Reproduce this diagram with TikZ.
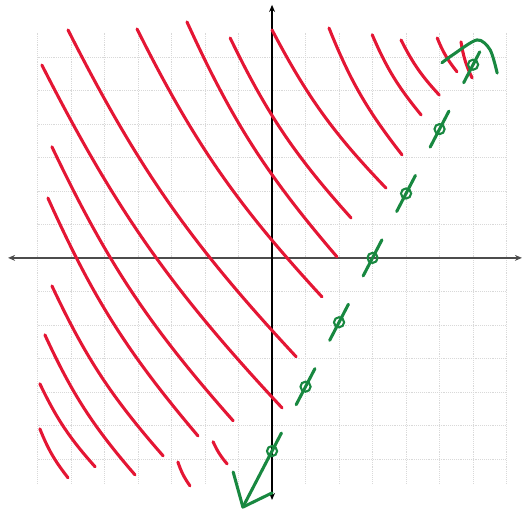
\documentclass[tikz,border=0pt]{standalone}
\usepackage{tikz}
\usetikzlibrary{arrows.meta}
\definecolor{hatchred}{RGB}{228,22,52}
\definecolor{penGreen}{RGB}{24,136,64}
\tikzset{
  gridline/.style={gray!30, densely dotted, line width=0.6pt},
  axisline/.style={line width=1.3pt, {Stealth[length=6pt,width=5pt]}-{Stealth[length=6pt,width=5pt]}},
  hatch/.style={hatchred, line width=2.6pt, line cap=round},
  boundary/.style={penGreen, line width=2.6pt, line cap=round, line join=round},
  ptmark/.style={penGreen, line width=1.8pt}
}
\newcommand{\hatchstroke}[2]{\draw[hatch] (#1) to[bend right=8] (#2);}
\newcommand{\ptloop}[1]{\draw[ptmark] (#1) circle (4.3pt);}

\begin{document}
\begin{tikzpicture}[x=1cm, y=0.961cm]
\useasboundingbox (-8.12,-8.04) rectangle (7.64,8.01);
\draw[gridline] (-7,-7) grid (7,7);
\draw[axisline, black!70] (-7.88,0) -- (7.46,0);
\draw[axisline, black] (0,-7.52) -- (0,7.86);
\hatchstroke{-6.93,-5.31}{-6.09,-6.83}
\hatchstroke{-6.93,-3.91}{-5.28,-6.49}
\hatchstroke{-6.78,-2.39}{-4.09,-6.74}
\hatchstroke{-6.57,-0.87}{-3.25,-6.15}
\hatchstroke{-6.69,1.86}{-2.21,-5.53}
\hatchstroke{-6.57,3.45}{-1.16,-5.06}
\hatchstroke{-6.87,5.99}{0.30,-4.66}
\hatchstroke{-6.09,7.08}{0.72,-3.07}
\hatchstroke{-4.03,7.11}{1.49,-1.21}
\hatchstroke{-2.54,7.33}{1.94,0.03}
\hatchstroke{-1.25,6.83}{2.36,1.24}
\hatchstroke{0,7.08}{3.40,2.17}
\hatchstroke{1.70,7.14}{3.88,3.20}
\hatchstroke{2.99,6.93}{4.45,4.44}
\hatchstroke{3.85,6.77}{4.99,5.06}
\hatchstroke{4.93,6.83}{5.52,5.78}
\hatchstroke{5.64,6.71}{5.97,5.59}
\hatchstroke{-2.81,-6.34}{-2.45,-7.08}
\hatchstroke{-1.76,-5.71}{-1.34,-6.40}
\coordinate (lowtip) at (-0.87,-7.74);
\coordinate (hightip) at (6.2,6.4);
\draw[boundary] (lowtip) -- (0.28,-5.44);
\draw[boundary] (0.72,-4.56) -- (1.28,-3.44);
\draw[boundary] (1.72,-2.56) -- (2.28,-1.44);
\draw[boundary] (2.72,-0.56) -- (3.28,0.56);
\draw[boundary] (3.72,1.44) -- (4.28,2.56);
\draw[boundary] (4.72,3.44) -- (5.28,4.56);
\draw[boundary] (5.72,5.44) -- (hightip);
\draw[boundary] (-1.16,-6.65) -- (lowtip) -- (0,-7.30);
\draw[boundary] plot[smooth] coordinates {(5.07,6.06) (5.40,6.31) (6.12,6.77) (6.51,6.46) (6.72,5.74)};
\ptloop{0,-6}
\ptloop{1,-4}
\ptloop{2,-2}
\ptloop{3,0}
\ptloop{4,2}
\ptloop{5,4}
\ptloop{6,6}
\end{tikzpicture}
\end{document}
